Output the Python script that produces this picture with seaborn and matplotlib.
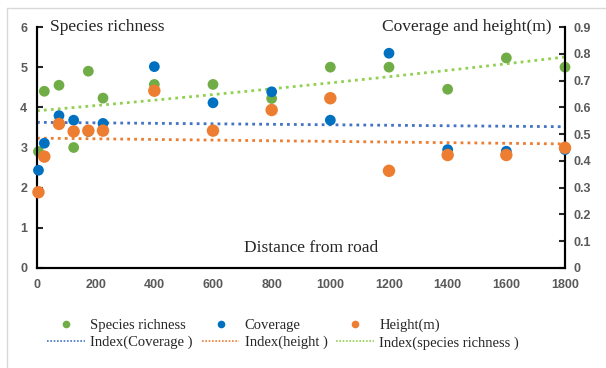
import numpy as np
import pandas as pd
import seaborn as sns
import matplotlib.pyplot as plt
from matplotlib.lines import Line2D

sns.set_style('white')
plt.rcParams['font.family'] = ['Liberation Serif', 'DejaVu Serif']

# distance from road (m)
distance = [5, 25, 75, 125, 175, 225, 400, 600, 800, 1000, 1200, 1400, 1600, 1800]
# left axis
richness = [2.9, 4.4, 4.55, 3.0, 4.9, 4.23, 4.57, 4.57, 4.22, 5.0, 5.0, 4.45, 5.23, 5.0]
# right axis
coverage = [0.365, 0.466, 0.569, 0.552, 0.51, 0.54, 0.752, 0.617, 0.658, 0.552, 0.802, 0.442, 0.436, 0.442]
height = [0.283, 0.416, 0.538, 0.51, 0.513, 0.513, 0.662, 0.513, 0.59, 0.634, 0.363, 0.422, 0.422, 0.449]

df = pd.DataFrame({'dist': distance, 'rich': richness, 'cov': coverage, 'h': height})

c_green = '#70AD47'
c_blue = '#0070C0'
c_orange = '#ED7D31'
c_tblue = '#4472C4'
c_tgreen = '#92D050'


def expfit(x, y):
    # excel style exponential trendline
    b, a = np.polyfit(x, np.log(y), 1)
    xs = np.linspace(0, 1800, 100)
    return xs, np.exp(a + b * xs)


fig = plt.figure(figsize=(6.06, 3.68), dpi=100)
ax = fig.add_axes([37 / 606, 1 - 268 / 368, 528 / 606, 241 / 368])
ax2 = ax.twinx()

xs, ys = expfit(df['dist'], df['rich'])
sns.lineplot(x=xs, y=ys, ax=ax, color=c_tgreen, linestyle=(0, (1, 1.5)), linewidth=2)
sns.scatterplot(data=df, x='dist', y='rich', ax=ax, color=c_green, s=60, edgecolor='none',
                zorder=3, clip_on=False)

xs, ys = expfit(df['dist'], df['cov'])
sns.lineplot(x=xs, y=ys, ax=ax2, color=c_tblue, linestyle=(0, (1, 1.5)), linewidth=2)
xs, ys = expfit(df['dist'], df['h'])
sns.lineplot(x=xs, y=ys, ax=ax2, color=c_orange, linestyle=(0, (1, 1.5)), linewidth=2)
sns.scatterplot(data=df, x='dist', y='cov', ax=ax2, color=c_blue, s=60, edgecolor='none',
                zorder=3, clip_on=False)
sns.scatterplot(data=df, x='dist', y='h', ax=ax2, color=c_orange, s=80, edgecolor='none',
                zorder=4, clip_on=False)

ax.set_xlim(0, 1800)
ax.set_ylim(0, 6)
ax2.set_ylim(0, 0.9)
ax.set_xticks(range(0, 1801, 200))
ax.set_yticks(range(0, 7))
ax2.set_yticks(np.arange(0, 0.91, 0.1))
ax2.set_yticklabels(['0'] + ['%.1f' % v for v in np.arange(0.1, 0.91, 0.1)])
for a in (ax, ax2):
    a.set_xlabel('')
    a.set_ylabel('')
    for s in a.spines.values():
        s.set_color('black')
        s.set_linewidth(1.5)
    a.spines['top'].set_visible(False)
    a.tick_params(labelsize=9, labelcolor='#595959', width=1.5, length=4, direction='in')
    for t in a.get_xticklabels() + a.get_yticklabels():
        t.set_fontfamily('Liberation Sans')
        t.set_fontweight('bold')
ax.tick_params(axis='x', length=0, pad=8)
ax.tick_params(axis='y', pad=7)
ax2.tick_params(axis='y', pad=6)

ax.text(0.024, 1.0, 'Species richness', transform=ax.transAxes, fontsize=12.5, va='center', ha='left')
ax.text(0.975, 1.0, 'Coverage and height(m)', transform=ax.transAxes, fontsize=12.5, va='center', ha='right')
ax.text(0.52, 0.085, 'Distance from road', transform=ax.transAxes, fontsize=12.5, va='center', ha='center')

dot = dict(marker='o', linestyle='none', markersize=5.5, markeredgewidth=0)
ls = dict(linestyle=(0, (1, 1)), linewidth=1.2)
handles = [
    Line2D([], [], color=c_green, **dot), Line2D([], [], color=c_tblue, **ls),
    Line2D([], [], color=c_blue, **dot), Line2D([], [], color=c_orange, **ls),
    Line2D([], [], color=c_orange, **dot), Line2D([], [], color=c_tgreen, **ls),
]
labels = ['Species richness', 'Index(Coverage )', 'Coverage', 'Index(height )',
          'Height(m)', 'Index(species richness )']
fig.legend(handles, labels, ncol=3, loc='upper left', bbox_to_anchor=(40 / 606, 1 - 311 / 368),
           frameon=False, fontsize=10.5, handlelength=2.6, columnspacing=0.6,
           labelspacing=0.3, handletextpad=0.35, borderpad=0)

# light frame on top and left like the source
fig.add_artist(Line2D([7 / 606, 1], [1 - 8 / 368, 1 - 8 / 368], transform=fig.transFigure,
                      color='#d9d9d9', linewidth=1))
fig.add_artist(Line2D([7 / 606, 7 / 606], [1 - 8 / 368, 0], transform=fig.transFigure,
                      color='#d9d9d9', linewidth=1))

fig.savefig('out.png', dpi=100)
